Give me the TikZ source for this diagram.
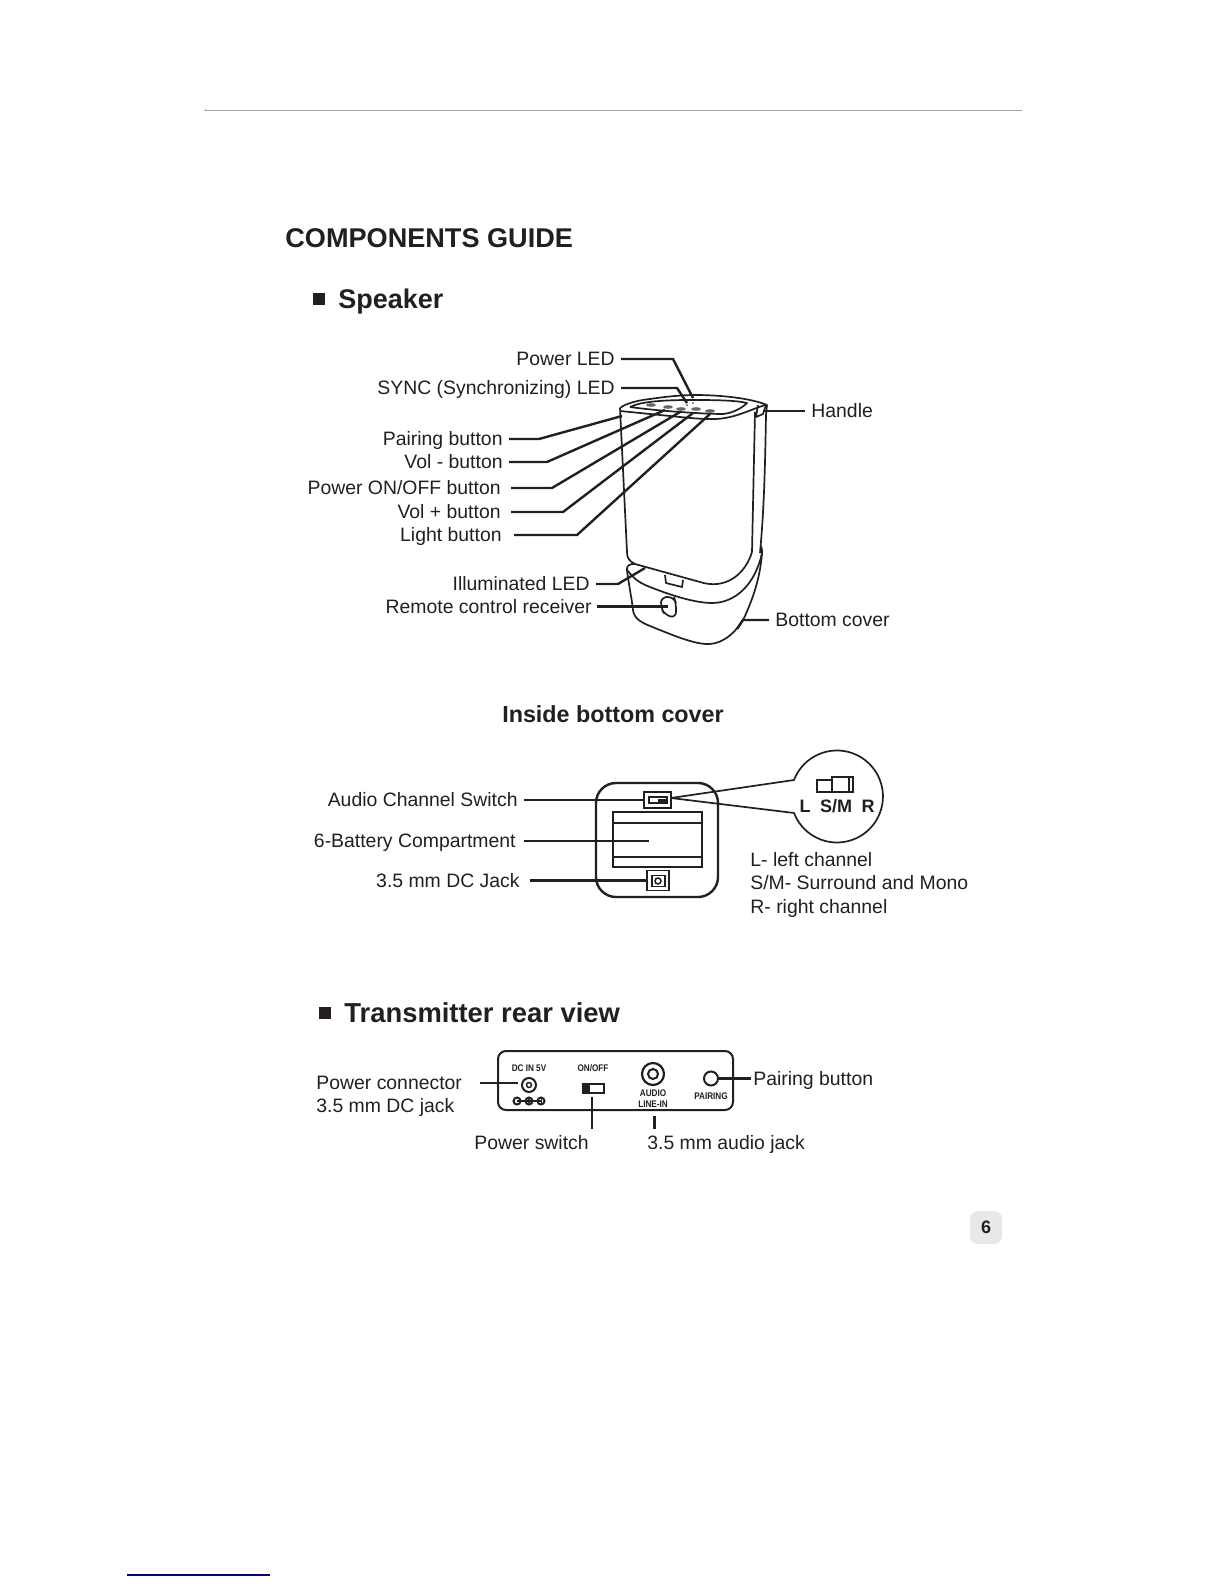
\documentclass[tikz,border=0pt]{standalone}
\usepackage{fontspec}
\setmainfont{Liberation Sans}
\usetikzlibrary{arrows.meta,positioning,calc}
\definecolor{inkc}{HTML}{231F20}
\tikzset{
 lbl/.style={font=\fontsize{9.7}{11}\selectfont,text=inkc,inner sep=0pt,text height=8.7pt,text depth=1.8pt},
 tiny/.style={font=\bfseries\fontsize{4.8}{5}\selectfont,text=inkc,inner sep=0pt,xscale=.85,transform shape},
 lead/.style={draw=inkc,line width=1.2pt,shorten <=3pt},
 body/.style={draw=inkc,line width=.85pt,line join=round},
 box/.style={draw=inkc,line width=.75pt}
}
\begin{document}
\begin{tikzpicture}[x=.5pt,y=-.5pt]
\useasboundingbox (0,0) rectangle (1224,1584);
\fill[white] (0,0) rectangle (1224,1584);
\draw[gray!70,line width=.5pt] (205,111)--(1022,111);
\fill[inkc] (205,110) circle (.5);
\draw[blue!50!black,line width=.6pt] (127,1575)--(270,1575);
\fill[black!9,rounded corners=4pt] (970,1211) rectangle (1002,1244);
\node[font=\bfseries\fontsize{9}{11}\selectfont,text=inkc] (pagenum) at (986,1227) {6};
% titles
\node[anchor=west,inner sep=0pt,font=\bfseries\fontsize{13.55}{16}\selectfont,text=inkc] (title) at (285,238) {COMPONENTS GUIDE};
\fill[inkc] (313,293) rectangle (325,305);
\node[anchor=west,inner sep=0pt,font=\bfseries\fontsize{13.5}{16}\selectfont,text=inkc] (speaker) at (338,302) {Speaker};
\node[inner sep=0pt,font=\bfseries\fontsize{11.65}{14}\selectfont,text=inkc] (inside) at (613,714) {Inside bottom cover};
\fill[inkc] (319,1007) rectangle (331,1019);
\node[anchor=west,inner sep=0pt,font=\bfseries\fontsize{13.7}{16}\selectfont,text=inkc] (transmitter) at (344,1013) {Transmitter rear view};
% speaker body
\draw[body] (620,408) .. controls (626,403) and (640,400) .. (650,399) .. controls (670,396) and (685,395) .. (695,395) .. controls (720,395) and (750,398) .. (767,405) -- (766,415) .. controls (765,470) and (764,510) .. (760,553);
\draw[body] (620,411) .. controls (640,413) and (660,415) .. (680,417) .. controls (700,419) and (715,420) .. (725,418) .. controls (738,416) and (750,410) .. (765,405);
\draw[body] (630,407) .. controls (640,402) and (660,400) .. (690,400) .. controls (710,400) and (735,400) .. (747,403) .. controls (742,408) and (733,413) .. (723,414) .. controls (700,414) and (650,410) .. (630,407);
\draw[body] (755,412)--(752,552);
\draw[body] (758,405)--(756,417)--(763,414)--(766,405);
\draw[body] (620,408)--(627,552) .. controls (627,558) and (629,561) .. (635,564) -- (700,582) .. controls (725,590) and (745,575) .. (752,552);
\foreach \cx/\cy in {651/405,668/407,681/409,696/409,710/411}{\fill[black!60] (\cx,\cy) ellipse (5 and 1.8);}
\foreach \cx/\cy in {693/403,687/405}{\fill[inkc] (\cx,\cy) circle (.9);}
% bottom cover
\draw[body] (636,564) .. controls (630,563) and (626,566) .. (627,570) .. controls (628,580) and (632,600) .. (633,610) .. controls (634,618) and (640,622) .. (650,626) .. controls (670,634) and (695,645) .. (710,644) .. controls (725,643) and (738,630) .. (745,616) .. controls (752,600) and (760,580) .. (762,553) .. controls (762,550) and (762,548) .. (761,546);
\draw[body] (627,570) .. controls (635,580) and (640,583) .. (650,587) .. controls (670,595) and (695,603) .. (712,603) .. controls (735,603) and (755,585) .. (762,553);
\draw[body] (665,575)--(666,583)--(682,587)--(683,580);
\draw[body,rounded corners=3pt] (661,597)--(674,597)--(676,603)--(676,618)--(665,615)--(661,608)--cycle;
% speaker labels
\foreach \nm/\px/\py/\txt in {pwrled/615/359/{Power LED},syncled/615/388/{SYNC (Synchronizing) LED},pairbtn/503/439/{Pairing button},volmin/503/462/{Vol - button},pwrbtn/501/488/{Power ON/OFF button},volplus/501/512/{Vol + button},lightbtn/502/535/{Light button},illum/590/584/{Illuminated LED},remote/592/606.5/{Remote control receiver}}{\node[lbl,anchor=east] (\nm) at (\px,\py) {\txt};}
\node[lbl,anchor=west] (handle) at (811,411) {Handle};
\node[lbl,anchor=west] (botcov) at (775,620) {Bottom cover};
\coordinate (pwrledc) at (693,398);\coordinate (syncledc) at (687,403);\coordinate (handlec) at (763,411);
\coordinate (pairc) at (622,416);\coordinate (volminc) at (665,410);\coordinate (pwrc) at (680,412);\coordinate (volplusc) at (693,413);\coordinate (lightc) at (710,414);
\coordinate (illumc) at (645,568);\coordinate (remotec) at (668,606.5);\coordinate (botc) at (737,629);
\draw[lead] (pwrled.east)--++(58,0)--(pwrledc);
\draw[lead] (syncled.east)--++(62,0)--(syncledc);
\draw[lead] (handle.west)--(handlec);
\draw[lead] (pairbtn.east)--++(36,0)--(pairc);
\draw[lead] (volmin.east)--++(44,0)--(volminc);
\draw[lead,shorten <=5pt] (pwrbtn.east)--++(51,0)--(pwrc);
\draw[lead,shorten <=5pt] (volplus.east)--++(62,0)--(volplusc);
\draw[lead,shorten <=6pt] (lightbtn.east)--++(75,0)--(lightc);
\draw[lead] (illum.east)--++(28,0)--(illumc);
\draw[lead,shorten <=2.5pt] (remote.east)--(remotec);
\draw[lead] (botcov.west)--++(-32,0)--(botc);
% inside bottom cover
\draw[draw=inkc,line width=1.2pt,rounded corners=10pt] (596,783) rectangle (718,897);
\node[box,minimum width=13.5pt,minimum height=8pt,inner sep=0pt] (audiosw) at (657.5,800) {};
\draw[box] (649,797) rectangle (667,803);\fill[inkc] (658,798.5) rectangle (666,801.5);
\draw[box] (613,812) rectangle (702,867);\draw[box] (613,823)--(702,823);\draw[box] (613,857)--(702,857);
\coordinate (battc) at (649,841);
\node[box,minimum width=11pt,minimum height=10pt,inner sep=0pt] (dcjack) at (658,880.5) {};
\draw[box] (652,875.5) rectangle (665,886.5);\draw[box] (658,881) circle (3);
\draw[body] (671,798)--(794,780) arc[start angle=201,end angle=519,radius=46]--(671,798);
\draw[box,line width=1pt] (817,780) rectangle (832,792);\draw[box,line width=1pt] (832,777) rectangle (853,792);\draw[box] (849,777)--(849,792);
\node[font=\bfseries\fontsize{9}{11}\selectfont,text=inkc,inner sep=0pt] (chl) at (805,806) {L};
\node[font=\bfseries\fontsize{9}{11}\selectfont,text=inkc,inner sep=0pt] (chsm) at (836,806) {S/M};
\node[font=\bfseries\fontsize{9}{11}\selectfont,text=inkc,inner sep=0pt] (chr) at (868,806) {R};
\foreach \nm/\px/\py/\txt in {audiolbl/518/800/{Audio Channel Switch},battlbl/516/841/{6-Battery Compartment},dclbl/520/880.5/{3.5 mm DC Jack}}{\node[lbl,anchor=east] (\nm) at (\px,\py) {\txt};}
\draw[lead] (audiolbl.east)--(audiosw.west);
\draw[lead,shorten <=4pt] (battlbl.east)--(battc);
\draw[lead,shorten <=5pt] (dclbl.east)--(dcjack.west);
\node[lbl,anchor=west] (leftch) at (750,860) {L- left channel};
\node[lbl,anchor=west] (smch) at (750,883) {S/M- Surround and Mono};
\node[lbl,anchor=west] (rightch) at (750,907) {R- right channel};
% transmitter
\draw[draw=inkc,line width=1pt,rounded corners=4pt] (498,1051) rectangle (733,1110);
\node[tiny] (dcin) at (529,1068) {DC IN 5V};
\node[tiny] (onoff) at (593,1068) {ON/OFF};
\node[tiny] (audio) at (653,1093) {AUDIO};
\node[tiny] (linein) at (653,1104) {LINE-IN};
\node[tiny] (pairing) at (711,1096) {PAIRING};
\draw[box,line width=1pt] (529,1085) circle (7);\draw[box] (529,1085) circle (2.5);
\coordinate (dcc) at (518,1083);
\draw[box,line width=1pt] (517,1101)--(541,1101);
\foreach \cx in {517,529,541}{\draw[box,line width=1pt] (\cx,1101) circle (3.5);}
\fill[inkc] (529,1101) circle (2);\draw[box,line width=.5pt] (541,1098.5)--(541,1103.5);
\node[box,minimum width=10.5pt,minimum height=4.5pt,inner sep=0pt] (txsw) at (593.5,1088.5) {};
\fill[inkc] (584,1085) rectangle (590,1092);
\draw[box,line width=1.1pt] (653,1074) circle (11);\draw[box,line width=1pt] (653,1074) circle (5);
\node[draw=inkc,line width=1pt,circle,minimum size=7pt,inner sep=0pt] (pairhole) at (711,1078.5) {};
\node[lbl,anchor=west] (pconn) at (316,1083) {Power connector};
\node[lbl,anchor=west] (pjack) at (316,1106) {3.5 mm DC jack};
\node[lbl,anchor=west] (pairlbl) at (753,1078.5) {Pairing button};
\node[lbl,anchor=west] (pswlbl) at (474,1143) {Power switch};
\node[lbl,anchor=west] (ajacklbl) at (647,1143) {3.5 mm audio jack};
\coordinate (swtop) at (592,1097);\coordinate (jacktop) at (654.5,1116);
\draw[lead,shorten <=9pt] (pconn.east)--(dcc);
\draw[lead,shorten <=1pt] (pairlbl.west)--(pairhole.east);
\draw[lead,shorten <=0pt,shorten >=1.5pt] (swtop)--(swtop|-pswlbl.north);
\draw[lead,shorten <=0pt,shorten >=1.5pt] (jacktop)--(jacktop|-ajacklbl.north);
\end{tikzpicture}
\end{document}
